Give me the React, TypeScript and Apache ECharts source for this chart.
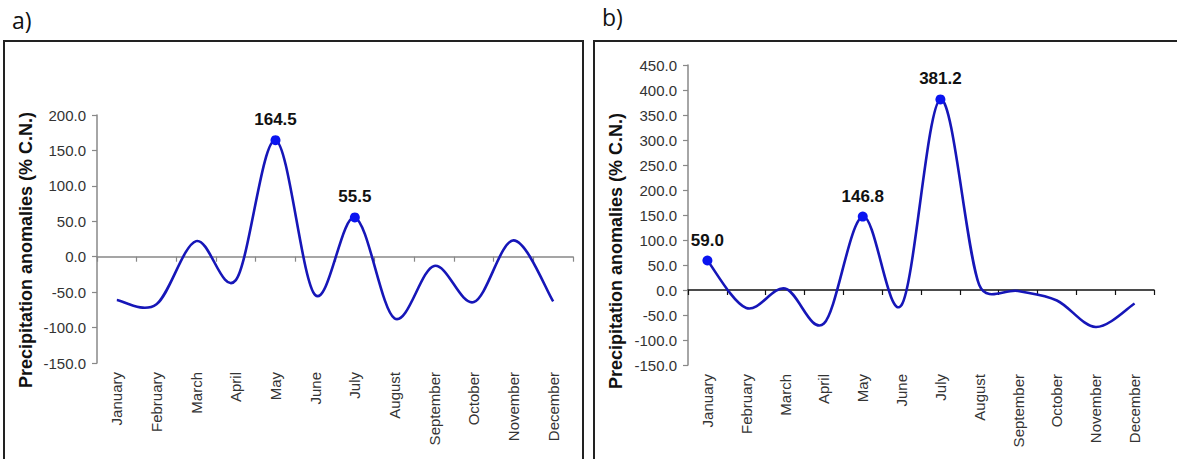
import React, { useEffect, useRef } from "react";
import * as echarts from "echarts";

const months = [
  "January", "February", "March", "April", "May", "June",
  "July", "August", "September", "October", "November", "December",
];
const valuesA = [-61, -67, 22, -33, 164.5, -54, 55.5, -87, -13, -64, 23, -63];
const valuesB = [59.0, -36, 3, -67, 146.8, -30, 381.2, 10, -2, -21, -74, -27];
const labeledA = ["May", "July"];
const labeledB = ["January", "May", "July"];
const yTicksA = { min: -150, max: 200, step: 50 };
const yTicksB = { min: -150, max: 450, step: 50 };
const yAxisTitle = "Precipitation anomalies (% C.N.)";
const panelTitles = ["a)", "b)"];

const LINE = "#1616b8";
const MARK = "#0a14f0";
const FONT = "Liberation Sans, Arial, sans-serif";

function markerData(values: number[], labeled: string[]) {
  return values.map((v, i) => {
    const on = labeled.includes(months[i]);
    return {
      value: v,
      symbol: on ? "circle" : "none",
      symbolSize: on ? 10 : 0,
      label: {
        show: on,
        position: "top",
        distance: 7,
        formatter: (p: any) => Number(p.value).toFixed(1),
        fontFamily: FONT,
        fontWeight: "bold",
        fontSize: 17,
        color: "#111",
      },
    };
  });
}

const dist = (a: number[], b: number[]) => Math.hypot(b[0] - a[0], b[1] - a[1]);

// Spreadsheet-style smoothed curve through the points mapped by the axes
function curveSeries(values: number[], axisIdx: number) {
  return {
    type: "custom",
    xAxisIndex: axisIdx * 2,
    yAxisIndex: axisIdx,
    data: values.map((v, i) => [i, v]),
    encode: { x: 0, y: 1 },
    z: 2,
    silent: true,
    renderItem: (params: any, api: any) => {
      if (params.dataIndex !== 0) return null;
      const p = values.map((v, i) => api.coord([i, v]));
      const n = p.length;
      const outCp: number[][] = [];
      const inCp: number[][] = [];
      for (let i = 0; i < n; i++) {
        const prev = p[Math.max(i - 1, 0)];
        const next = p[Math.min(i + 1, n - 1)];
        const tx = next[0] - prev[0];
        const ty = next[1] - prev[1];
        const tl = Math.hypot(tx, ty) || 1;
        const base = tl / 6;
        const lenOut = i < n - 1 ? Math.min(base, dist(p[i], p[i + 1]) / 2) : 0;
        const lenIn = i > 0 ? Math.min(base, dist(p[i - 1], p[i]) / 2) : 0;
        outCp.push([p[i][0] + (tx / tl) * lenOut, p[i][1] + (ty / tl) * lenOut]);
        inCp.push([p[i][0] - (tx / tl) * lenIn, p[i][1] - (ty / tl) * lenIn]);
      }
      let d = `M${p[0][0]},${p[0][1]}`;
      for (let i = 0; i < n - 1; i++) {
        const c1 = outCp[i];
        const c2 = inCp[i + 1];
        d += ` C${c1[0]},${c1[1]} ${c2[0]},${c2[1]} ${p[i + 1][0]},${p[i + 1][1]}`;
      }
      return {
        type: "path",
        shape: { pathData: d },
        style: { fill: "none", stroke: LINE, lineWidth: 2.6 },
      };
    },
  };
}

export default function App() {
  const ref = useRef<HTMLDivElement>(null);
  useEffect(() => {
    if (!ref.current) return;
    const chart = echarts.init(ref.current, undefined, { renderer: "svg" });
    const grids = [
      { left: 97, top: 115, width: 476, height: 248 },
      { left: 688, top: 65, width: 466, height: 300 },
    ];
    const zeroColors = ["#888888", "#111111"];
    const yCfg = [yTicksA, yTicksB];
    const xAxis: any[] = [];
    const yAxis: any[] = [];
    grids.forEach((g, i) => {
      xAxis.push({
        type: "category",
        gridIndex: i,
        data: months,
        boundaryGap: true,
        position: "bottom",
        axisLine: { show: false, onZero: false },
        axisTick: { show: false },
        axisLabel: {
          rotate: 90,
          margin: 9,
          fontFamily: FONT,
          fontSize: 15,
          color: "#333",
          interval: 0,
        },
      });
      xAxis.push({
        type: "category",
        gridIndex: i,
        data: months,
        boundaryGap: true,
        position: "bottom",
        axisLine: {
          show: true,
          onZero: true,
          onZeroAxisIndex: i,
          lineStyle: { color: zeroColors[i], width: 1.5 },
        },
        axisTick: {
          show: true,
          length: 5,
          interval: 0,
          lineStyle: { color: zeroColors[i], width: 1.2 },
        },
        axisLabel: { show: false },
      });
      yAxis.push({
        type: "value",
        gridIndex: i,
        min: yCfg[i].min,
        max: yCfg[i].max,
        interval: yCfg[i].step,
        axisLine: { show: true, lineStyle: { color: "#888888", width: 1.5 } },
        axisTick: { show: true, length: 5, lineStyle: { color: "#888888", width: 1.2 } },
        splitLine: { show: false },
        axisLabel: {
          margin: 11,
          fontFamily: FONT,
          fontSize: 15,
          color: "#333",
          formatter: (v: number) => v.toFixed(1),
        },
      });
    });

    chart.setOption({
      animation: false,
      backgroundColor: "#ffffff",
      grid: grids,
      xAxis,
      yAxis,
      series: [
        curveSeries(valuesA, 0),
        curveSeries(valuesB, 1),
        {
          type: "line",
          xAxisIndex: 0,
          yAxisIndex: 0,
          z: 3,
          data: markerData(valuesA, labeledA),
          lineStyle: { opacity: 0, width: 0 },
          itemStyle: { color: MARK },
        },
        {
          type: "line",
          xAxisIndex: 2,
          yAxisIndex: 1,
          z: 3,
          data: markerData(valuesB, labeledB),
          lineStyle: { opacity: 0, width: 0 },
          itemStyle: { color: MARK },
        },
      ],
      graphic: [
        {
          type: "rect",
          shape: { x: 4, y: 41, width: 579, height: 440 },
          style: { fill: "none", stroke: "#222", lineWidth: 2 },
          silent: true,
        },
        {
          type: "rect",
          shape: { x: 594, y: 41, width: 600, height: 440 },
          style: { fill: "none", stroke: "#222", lineWidth: 2 },
          silent: true,
        },
        {
          type: "text",
          x: 12,
          y: 8,
          style: {
            text: panelTitles[0],
            font: "23px 'Open Sans', sans-serif",
            fill: "#111",
          },
        },
        {
          type: "text",
          x: 602,
          y: 5,
          style: {
            text: panelTitles[1],
            font: "23px 'Open Sans', sans-serif",
            fill: "#111",
          },
        },
        {
          type: "text",
          x: 26,
          y: 250,
          rotation: Math.PI / 2,
          style: {
            text: yAxisTitle,
            font: "bold 18px 'Liberation Sans', Arial, sans-serif",
            fill: "#111",
            align: "center",
            verticalAlign: "middle",
          },
        },
        {
          type: "text",
          x: 616,
          y: 251,
          rotation: Math.PI / 2,
          style: {
            text: yAxisTitle,
            font: "bold 18px 'Liberation Sans', Arial, sans-serif",
            fill: "#111",
            align: "center",
            verticalAlign: "middle",
          },
        },
      ],
    });
    return () => chart.dispose();
  }, []);
  return (
    <div
      ref={ref}
      style={{ position: "fixed", left: 0, top: 0, width: 1177, height: 459 }}
    />
  );
}
